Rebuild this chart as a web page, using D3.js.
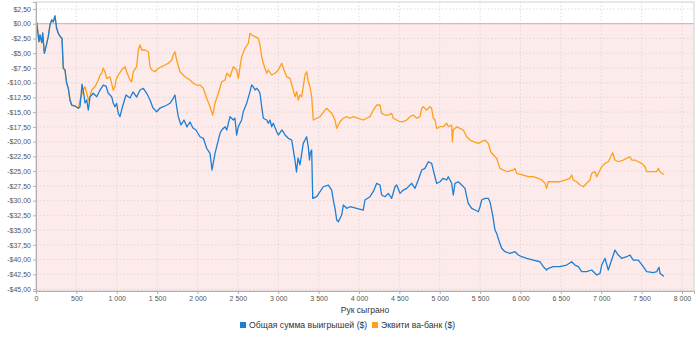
<!DOCTYPE html>
<html>
<head>
<meta charset="utf-8">
<script src="https://cdn.jsdelivr.net/npm/d3@7"></script>
<style>
html,body{margin:0;padding:0;background:#fff;}
svg{display:block;}
text{font-family:"Liberation Sans",Arial,sans-serif;}
</style>
</head>
<body>
<svg id="chart" width="700" height="340"></svg>
<script>
// ---- data ----
const xTicks = [0,500,1000,1500,2000,2500,3000,3500,4000,4500,5000,5500,6000,6500,7000,7500,8000];
const yTicks = [2.5,0,-2.5,-5,-7.5,-10,-12.5,-15,-17.5,-20,-22.5,-25,-27.5,-30,-32.5,-35,-37.5,-40,-42.5,-45];
const seriesNames = ["Общая сумма выигрышей ($)", "Эквити ва-банк ($)"];
const xTitle = "Рук сыграно";

const commonStart = [
[0,0],[9,0.17],[37,-3.05],[50,-1.92],[71,-3.22],[83,-1.58],[103,-5.02],[124,-3.90],[152,-2.20],
[173,-0.22],[194,0.63],[214,0.34],[235,1.31],[256,-0.78],[276,-1.63],[306,-2.31],[322,-2.48],
[338,-7.56],[359,-7.85],[380,-10.11],[400,-10.96],[421,-12.94],[442,-13.79],[483,-13.96],[524,-14.35]
];

const totalWinnings = commonStart.concat([
[545,-14.1],[570,-10.24],[594,-12.09],[607,-13.45],[628,-12.94],[648,-14.64],[669,-12.38],[710,-11.80],
[752,-12.38],[793,-11.25],[833,-10.40],[867,-10.57],[895,-11.80],[937,-12.38],[957,-13.50],[978,-14.08],
[999,-13.50],[1019,-15.20],[1040,-15.77],[1077,-13.79],[1115,-12.09],[1164,-12.60],[1201,-11.58],
[1247,-12.43],[1288,-11.25],[1329,-10.96],[1371,-11.80],[1412,-12.94],[1449,-14.30],[1495,-14.93],
[1536,-14.30],[1576,-14.08],[1622,-13.79],[1659,-13.50],[1700,-12.65],[1721,-12.09],[1742,-14.08],
[1762,-15.77],[1796,-17.18],[1833,-16.33],[1870,-17.52],[1907,-16.67],[1944,-17.69],[1981,-18.03],
[2031,-19.17],[2072,-19.44],[2114,-21.13],[2155,-21.98],[2180,-24.81],[2217,-21.98],[2238,-20.86],
[2279,-18.59],[2300,-18.03],[2341,-17.47],[2362,-18.03],[2403,-15.77],[2444,-16.33],[2464,-16.04],
[2485,-18.88],[2505,-17.47],[2547,-16.33],[2567,-14.93],[2609,-13.50],[2650,-11.53],[2671,-10.40],
[2691,-10.69],[2712,-11.25],[2733,-10.96],[2753,-11.25],[2774,-11.80],[2795,-14.08],[2815,-16.04],
[2857,-16.33],[2877,-16.89],[2898,-16.33],[2919,-17.47],[2939,-16.89],[2981,-18.32],[3001,-18.88],
[3043,-18.03],[3063,-18.32],[3084,-18.88],[3125,-19.44],[3167,-19.73],[3207,-23.12],[3226,-25.15],
[3245,-22.78],[3269,-23.95],[3310,-20.29],[3331,-19.73],[3352,-19.17],[3372,-20.86],[3387,-23.12],
[3399,-21.76],[3414,-21.42],[3427,-29.61],[3476,-29.34],[3558,-27.65],[3620,-27.36],[3662,-28.21],
[3682,-29.90],[3703,-31.31],[3724,-33.29],[3744,-33.58],[3786,-32.45],[3806,-30.75],[3848,-31.31],
[3889,-31.04],[3972,-31.31],[4053,-31.60],[4074,-29.90],[4136,-29.34],[4177,-28.49],[4219,-27.07],
[4260,-27.36],[4281,-29.05],[4322,-29.34],[4363,-28.77],[4405,-29.61],[4446,-27.65],[4467,-27.36],
[4508,-28.77],[4549,-28.21],[4591,-27.92],[4653,-27.07],[4694,-27.92],[4734,-26.51],[4777,-24.81],
[4817,-24.53],[4858,-23.41],[4900,-23.68],[4941,-25.95],[4962,-27.07],[5003,-26.80],[5044,-26.22],
[5086,-26.51],[5106,-25.95],[5148,-27.07],[5168,-29.05],[5189,-27.07],[5230,-26.80],[5272,-27.36],
[5313,-27.92],[5334,-29.34],[5354,-30.46],[5396,-31.31],[5437,-31.60],[5478,-31.89],[5499,-31.04],
[5520,-29.90],[5560,-29.61],[5601,-29.61],[5622,-30.19],[5656,-32.45],[5684,-34.99],[5705,-35.55],
[5738,-36.97],[5767,-38.09],[5808,-38.67],[5870,-38.94],[5932,-38.67],[5973,-39.23],[6015,-39.52],
[6077,-39.79],[6159,-40.08],[6242,-40.37],[6283,-41.21],[6324,-41.77],[6344,-41.49],[6406,-41.21],
[6489,-41.21],[6572,-40.93],[6634,-40.37],[6675,-40.93],[6716,-41.21],[6758,-42.06],[6820,-42.06],
[6882,-41.77],[6944,-42.62],[6985,-42.33],[7006,-40.93],[7047,-39.79],[7087,-41.77],[7129,-40.08],
[7170,-38.38],[7211,-39.23],[7253,-39.79],[7315,-39.52],[7356,-39.23],[7397,-40.08],[7459,-40.08],
[7521,-41.21],[7563,-42.06],[7645,-42.23],[7687,-42.06],[7707,-41.49],[7716,-41.32],[7728,-42.33],
[7769,-42.79]
]);

const allInEquity = commonStart.concat([
[545,-12.94],[586,-11.25],[607,-10.69],[628,-11.80],[648,-12.94],[669,-12.38],[690,-11.25],[731,-10.69],
[772,-9.55],[793,-8.70],[814,-8.41],[833,-7.56],[854,-8.14],[875,-9.26],[916,-8.99],[937,-10.11],
[957,-11.25],[978,-10.69],[991,-9.55],[1019,-8.70],[1061,-7.85],[1102,-7.29],[1123,-8.14],[1164,-9.55],
[1185,-9.84],[1205,-8.14],[1247,-7.29],[1267,-4.46],[1288,-3.61],[1309,-4.46],[1350,-4.46],[1391,-4.75],
[1412,-7.29],[1433,-7.85],[1474,-8.14],[1515,-7.56],[1557,-7.29],[1598,-7.00],[1638,-6.72],[1681,-6.16],
[1700,-5.31],[1721,-4.75],[1742,-6.16],[1783,-8.14],[1845,-8.99],[1907,-9.55],[1948,-10.11],[1990,-10.40],
[2031,-10.40],[2072,-10.96],[2114,-12.65],[2155,-14.08],[2188,-15.49],[2217,-13.50],[2258,-11.80],
[2300,-9.84],[2341,-9.55],[2362,-8.41],[2403,-8.99],[2444,-7.29],[2485,-7.85],[2505,-9.26],[2547,-5.60],
[2588,-4.17],[2629,-3.32],[2650,-1.63],[2671,-1.92],[2712,-2.20],[2753,-2.48],[2774,-3.61],[2795,-5.60],
[2815,-6.72],[2857,-8.41],[2877,-7.85],[2919,-8.70],[2960,-8.41],[3001,-7.85],[3043,-6.72],[3063,-7.56],
[3105,-8.99],[3145,-9.26],[3186,-11.25],[3207,-12.38],[3228,-11.53],[3248,-12.94],[3269,-12.09],
[3290,-12.38],[3310,-10.69],[3331,-8.70],[3352,-8.14],[3372,-9.84],[3393,-10.69],[3414,-12.38],
[3434,-16.33],[3476,-16.04],[3517,-15.77],[3579,-14.64],[3600,-14.35],[3641,-14.93],[3662,-15.20],
[3703,-16.33],[3724,-17.74],[3765,-16.62],[3806,-16.04],[3848,-15.77],[3889,-16.04],[3930,-15.77],
[3992,-16.04],[4053,-16.33],[4095,-16.04],[4136,-15.77],[4177,-14.64],[4219,-13.79],[4260,-13.79],
[4281,-15.20],[4322,-15.49],[4363,-15.49],[4405,-15.20],[4425,-16.04],[4467,-16.33],[4508,-16.62],
[4549,-16.62],[4591,-16.33],[4632,-15.77],[4673,-15.49],[4715,-16.04],[4755,-15.77],[4777,-14.35],
[4797,-14.08],[4838,-14.64],[4879,-14.08],[4900,-14.35],[4921,-16.04],[4941,-16.33],[4962,-17.74],
[5003,-17.47],[5044,-17.47],[5086,-16.89],[5106,-17.47],[5148,-17.18],[5156,-20.01],[5168,-18.03],
[5210,-17.47],[5251,-17.74],[5292,-18.03],[5334,-19.17],[5375,-19.73],[5416,-20.01],[5478,-20.29],
[5520,-20.01],[5560,-19.73],[5601,-20.29],[5631,-21.71],[5663,-22.27],[5705,-22.83],[5725,-23.68],
[5746,-24.53],[5787,-24.81],[5829,-25.10],[5911,-24.81],[5932,-24.53],[5953,-25.37],[6035,-25.66],
[6097,-25.95],[6159,-25.95],[6221,-26.22],[6263,-26.51],[6304,-27.07],[6324,-27.92],[6344,-26.80],
[6406,-26.80],[6489,-26.80],[6551,-26.51],[6613,-26.22],[6634,-25.66],[6654,-26.51],[6696,-26.80],
[6737,-27.36],[6778,-27.65],[6820,-27.07],[6861,-26.51],[6882,-25.37],[6923,-25.10],[6944,-25.95],
[6985,-24.81],[7006,-24.25],[7047,-23.68],[7087,-23.41],[7117,-22.56],[7142,-21.88],[7170,-23.12],
[7211,-23.41],[7273,-23.12],[7315,-22.83],[7356,-22.56],[7377,-23.12],[7418,-23.12],[7459,-23.41],
[7501,-23.68],[7542,-24.25],[7563,-25.10],[7625,-25.10],[7687,-25.10],[7707,-24.53],[7728,-25.10],
[7769,-25.54]
]);

const colors = ["#1b7fd6", "#ff9f1a"];

// ---- layout ----
const svg = d3.select("#chart");
const L = 36, R = 694, T = 2, B = 291;
const x = d3.scaleLinear().domain([0, 8149]).range([L, R]);
const y = d3.scaleLinear().domain([-45.33, 3.68]).range([B, T]);

// background
svg.append("rect").attr("x", L).attr("y", T).attr("width", R - L).attr("height", B - T).attr("fill", "#ffffff");
svg.append("rect").attr("x", L).attr("y", y(0)).attr("width", R - L).attr("height", B - y(0)).attr("fill", "#fdebeb");

// grid
const grid = svg.append("g");
grid.selectAll("line.v").data(xTicks).enter().append("line")
  .attr("x1", d => x(d)).attr("x2", d => x(d)).attr("y1", T).attr("y2", B)
  .attr("stroke", "#d9d4d4").attr("stroke-width", 0.8).attr("stroke-dasharray", "1.5,2");
grid.selectAll("line.h").data(yTicks).enter().append("line")
  .attr("x1", L).attr("x2", R).attr("y1", d => y(d)).attr("y2", d => y(d))
  .attr("stroke", "#d9d4d4").attr("stroke-width", 0.8).attr("stroke-dasharray", "1.5,2");

// zero marker
svg.append("line").attr("x1", L).attr("x2", R).attr("y1", y(0)).attr("y2", y(0))
  .attr("stroke", "#e3a3a3").attr("stroke-width", 1);

// lines
svg.append("clipPath").attr("id", "clip").append("rect")
  .attr("x", L).attr("y", T).attr("width", R - L).attr("height", B - T);
const line = d3.line().x(d => x(d[0])).y(d => y(d[1]));
const gLines = svg.append("g").attr("clip-path", "url(#clip)");
[allInEquity, totalWinnings].forEach((s, i) => {
  gLines.append("path").datum(s).attr("d", line).attr("fill", "none")
    .attr("stroke", colors[1 - i]).attr("stroke-width", 1.3)
    .attr("stroke-linejoin", "round").attr("stroke-linecap", "round");
});

// outline
svg.append("rect").attr("x", L).attr("y", T).attr("width", R - L).attr("height", B - T)
  .attr("fill", "none").attr("stroke", "#cfcfcf").attr("stroke-width", 1);

// axes
const fmtY = d => (d < 0 ? "-" : "") + "$" + Math.abs(d).toFixed(2).replace(".", ",");
const fmtX = d => d >= 1000 ? Math.floor(d / 1000) + " " + String(d % 1000).padStart(3, "0") : String(d);

const yAxis = svg.append("g").attr("transform", `translate(${L},0)`)
  .call(d3.axisLeft(y).tickValues(yTicks).tickFormat(fmtY).tickSize(3).tickPadding(2));
const xAxis = svg.append("g").attr("transform", `translate(0,${B})`)
  .call(d3.axisBottom(x).tickValues(xTicks).tickFormat(fmtX).tickSize(3).tickPadding(2));
[yAxis, xAxis].forEach(a => {
  a.select(".domain").attr("stroke", "#b0b0b0");
  a.selectAll(".tick line").attr("stroke", "#b0b0b0");
  a.selectAll(".tick text").attr("fill", "#555").style("font-size", "7px")
    .style("font-family", "'Liberation Sans', Arial, sans-serif");
});

// axis title
svg.append("text").attr("x", (L + R) / 2).attr("y", 313).attr("text-anchor", "middle")
  .attr("fill", "#333").style("font-size", "8.5px").text(xTitle);

// legend
const legend = svg.append("g");
const lx = [240, 372];
seriesNames.forEach((n, i) => {
  legend.append("rect").attr("x", lx[i]).attr("y", 322).attr("width", 6).attr("height", 6).attr("fill", colors[i]);
  legend.append("text").attr("x", lx[i] + 9).attr("y", 328).attr("fill", "#333")
    .style("font-size", "8.7px").text(n);
});
</script>
</body>
</html>
